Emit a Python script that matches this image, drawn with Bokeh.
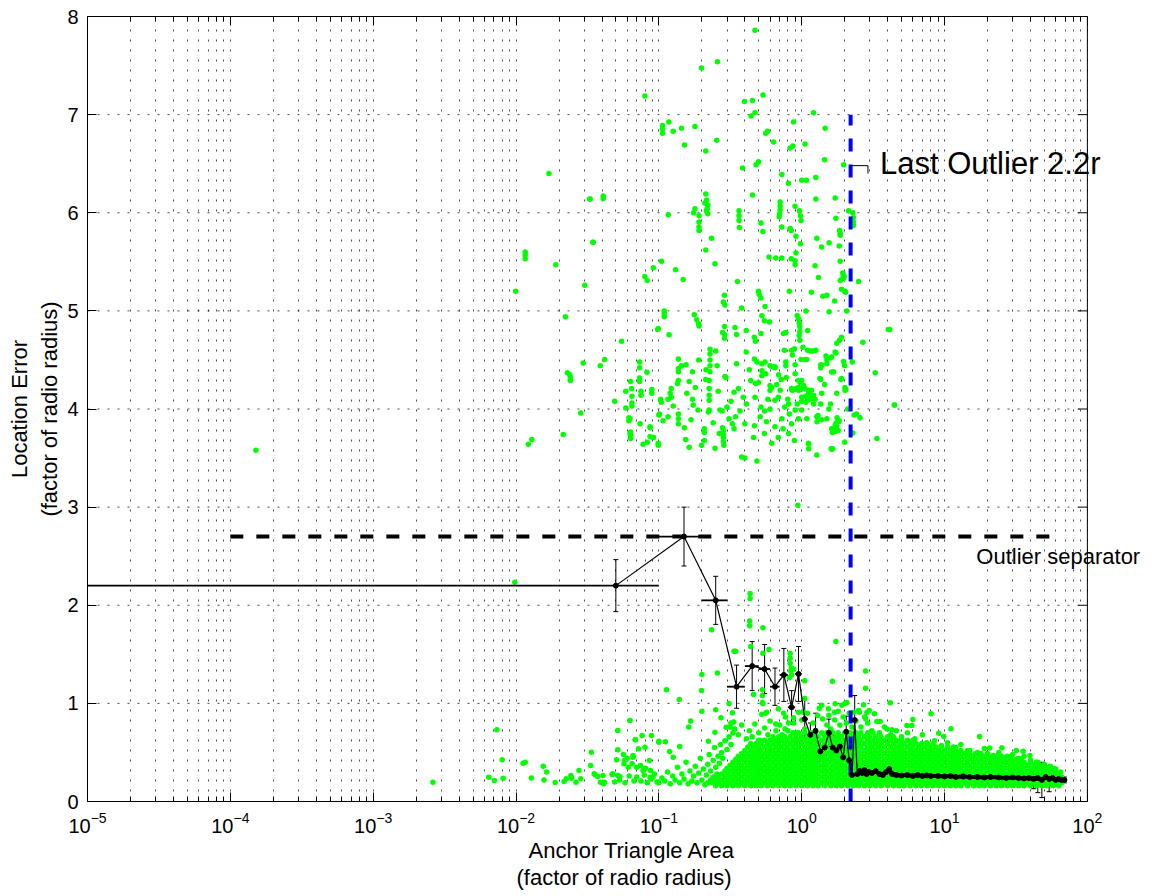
from bokeh.plotting import figure
from bokeh.models import (ColumnDataSource, LogAxis, FixedTicker,
                          Whisker, TeeHead, Label, Title)
from bokeh.embed import file_html
from bokeh.resources import INLINE

FONT = "Liberation Sans"

# ---------------- data ----------------
x_decades = [1e-5, 1e-4, 1e-3, 1e-2, 1e-1, 1e0, 1e1, 1e2]
x_axis_min, x_axis_max = 1e-5, 1e2
y_ticks = [0, 1, 2, 3, 4, 5, 6, 7, 8]

# outliers: scattered points with large error
high_outliers = [
(0.471,7.86),(0.199,7.475),(0.257,7.54),(0.0798,7.19),(0.398,7.135),(0.452,7.145),(0.536,7.2),(0.442,6.985),(0.471,7.02),(1.21,7.02),
(0.106,6.89),(0.106,6.85),(0.106,6.81),(0.1175,6.925),(0.126,6.83),(0.144,6.86),(0.179,6.88),(0.151,6.69),(0.213,6.63),(0.254,6.74),
(0.56,6.81),(0.577,6.83),(0.635,6.72),(0.877,6.925),(1.46,6.86),(1.056,6.7),(0.83,6.66),(0.867,6.68),(1.445,6.54),(1.965,6.49),
(0.479,6.49),(0.498,6.52),(0.386,6.455),(0.726,6.39),(0.808,6.3),(1.0,6.33),(1.08,6.33),(1.256,6.36),(1.256,6.14),(1.716,6.15),
(0.452,6.18),(0.0328,6.14),(0.0408,6.17),(0.0408,6.145),(0.017,6.4),
(0.213,6.19),(0.216,6.13),(0.22,6.08),(0.21,6.1),(0.218,6.04),(0.22,5.99),(0.215,6.02),
(0.179,6.04),(0.175,6.0),(0.191,5.97),(0.191,5.905),(0.191,5.855),(0.191,5.82),(0.1164,5.98),
(0.234,5.74),(0.213,5.62),(0.247,5.48),(0.364,6.02),(0.364,5.97),(0.364,5.92),(0.366,5.85),(0.519,5.895),(0.535,5.81),
(0.706,6.11),(0.706,6.07),(0.706,6.03),(0.7,5.99),(0.695,5.96),(0.899,6.065),(0.965,6.02),(0.98,5.97),(0.99,5.92),
(0.725,5.855),(0.83,5.84),(0.845,5.82),(0.912,5.76),(0.98,5.685),(1.735,5.945),(1.84,5.82),(1.86,5.79),(1.86,5.77),
(1.276,5.74),(1.377,5.65),(1.556,5.695),(1.83,5.66),(2.28,6.0),(2.3,5.95),(2.3,5.905),(2.3,5.87),(2.13,6.02),
(0.591,5.55),(0.659,5.54),(0.725,5.54),(0.845,5.53),(0.899,5.51),(0.899,5.47),(0.912,5.59),(1.24,5.46),
(1.94,5.385),(1.95,5.35),(1.86,5.31),(1.9,5.22),(2.0,5.2),(2.03,5.19),(2.5,5.3),(1.31,5.34),(1.86,5.505),
(0.0303,5.26),(0.0222,4.94),(0.0347,5.7),(0.0798,5.35),(0.0829,5.31),(0.0914,5.44),(0.1044,5.505),(0.131,5.42),(0.148,5.32),
(0.355,5.3),(0.498,5.2),(0.503,5.17),(0.519,5.13),(0.288,5.16),(0.283,5.09),(0.29,5.06),(0.38,5.03),(0.554,5.045),
(0.82,5.2),(1.17,5.19),(1.406,5.15),(1.5,5.16),(1.7,5.1),(1.556,4.99),(2.07,5.0),
(0.93,4.954),(0.95,4.92),(0.96,4.88),(0.97,4.84),(0.97,4.79),(0.96,4.75),(0.97,4.7),
(1.07,5.0),(1.1,4.8),(0.526,4.95),(0.548,4.9),(0.594,4.886),(0.466,4.73),(0.475,4.69),(0.519,4.77),(0.409,4.8),(0.341,4.83),
(0.288,4.84),(0.279,4.78),(0.288,4.76),(0.288,4.72),(0.35,4.76),(0.177,4.96),(0.184,4.91),(0.19,4.87),(0.191,4.845),
(0.118,4.757),(0.109,5.0),(0.109,4.97),(0.109,4.94),(0.099,4.82),(0.0548,4.69),(0.745,4.77),(0.774,4.78),
(4.13,4.81),(2.68,4.68),(1.965,4.485),(1.716,4.58),(1.59,4.52),(1.5,4.5),(1.5,4.46),(1.38,4.445),(1.36,4.42),
(2.0,4.44),(1.62,4.376),(1.36,4.3),(1.9,4.31),(2.01,4.22),(2.01,4.19),(1.76,4.16),(3.27,4.37),(4.45,4.04),
(2.33,3.94),(2.42,3.95),(2.56,3.91),(2.28,3.755),(2.0,3.66),(3.36,3.7),(1.62,3.59),
(1.7,3.81),(1.75,3.8),(1.8,3.78),(1.72,3.77),(1.59,4.05),(1.36,4.05),(1.28,3.87),(1.3,3.935),(1.118,3.64),(1.276,3.53),
(1.11,4.19),(1.13,4.16),(1.15,4.12),(1.18,4.11),(1.21,4.14),(1.1,4.6),(1.15,4.59),(1.2,4.59),(1.256,4.6),
(1.056,4.505),(1.085,4.505),(0.99,4.505),(1.02,4.63),(0.89,4.615),(0.9,4.36),(0.95,4.29),
(0.85,4.2),(0.88,4.2),(0.92,4.21),(0.95,4.19),(0.98,4.2),(1.0,4.12),(1.06,4.13),(1.1,4.09),(1.0,4.08),(1.07,4.07),
(0.000151,3.58),(0.00995,5.2),(0.0116,5.6),(0.0116,5.57),(0.0116,5.53),(0.019,5.47),(0.033,6.14),(0.0345,5.7),
(0.098,4.81),(0.0295,4.47),(0.0418,4.505),(0.0389,4.44),(0.0229,4.37),(0.0238,4.35),(0.024,4.32),(0.024,4.29),
(0.0733,4.48),(0.0733,4.42),(0.0825,4.375),(0.0733,4.315),(0.0733,4.28),(0.0634,4.28),(0.075,4.18),(0.075,4.14),(0.0586,4.18),
(0.0648,4.13),(0.0648,4.06),(0.0648,4.03),(0.0893,4.2),(0.0893,4.16),(0.049,4.08),(0.0587,4.01),(0.0284,3.96),(0.0617,3.91),(0.0617,3.88),
(0.0738,3.85),(0.0869,3.82),(0.0634,3.765),(0.0634,3.73),(0.0634,3.7),(0.0917,3.71),(0.083,3.66),(0.0775,3.64),(0.099,3.65),
(0.0214,3.74),(0.0129,3.69),(0.0122,3.64),(0.103,4.1),(0.101,3.95),
(0.228,4.61),(0.228,4.56),(0.228,4.5),(0.228,4.44),(0.228,4.38),(0.25,4.59),(0.225,4.29),(0.225,4.21),(0.225,4.14),(0.225,4.09),(0.225,3.99),(0.222,3.97),
(0.279,3.81),(0.283,3.78),(0.283,3.74),(0.283,3.71),(0.283,3.67),(0.285,3.63),(0.277,3.98),(0.268,3.99),(0.3,4.02),(0.29,4.33),(0.256,4.44),(0.214,4.4),(0.213,4.3),
(0.137,4.51),(0.144,4.44),(0.137,4.41),(0.137,4.38),(0.137,4.29),(0.135,4.26),(0.122,4.21),(0.122,4.12),(0.12,4.16),(0.116,4.1),(0.137,3.95),(0.137,3.9),(0.137,3.85),
(0.163,4.28),(0.172,4.38),(0.157,4.16),(0.172,4.1),(0.174,4.04),(0.188,3.99),(0.168,3.89),(0.151,3.81),(0.154,3.69),(0.163,3.61),(0.199,3.63),(0.208,3.8),(0.208,3.76),(0.208,3.68),(0.247,3.6),
(0.099,3.63),(0.1,3.94),(0.107,3.88),(0.116,3.92),(0.126,4.03),(0.104,4.07),(0.0868,3.81),(0.0868,3.72),(0.0914,3.71),
(0.0645,4.21),(0.0628,3.9),(0.0628,3.75),
(0.38,3.51),(0.4,3.5),(0.486,3.47),(0.46,3.71),(0.467,3.83),(0.4,3.85),(0.344,3.92),(0.327,3.85),(0.336,3.8),(0.31,3.9),(0.36,4.21),(0.336,4.17),(0.295,4.32),
(0.44,4.29),(0.471,4.12),(0.498,4.27),(0.526,4.39),(0.526,4.34),(0.56,4.36),(0.6,4.24),(0.6,4.19),(0.617,4.22),(0.65,4.43),(0.668,4.25),(0.686,4.12),(0.706,4.19),(0.65,4.09),
(0.774,4.48),(0.774,4.44),(0.85,4.21),(0.86,4.19),(0.925,4.21),(0.95,4.22),(0.975,4.27),(1.0,4.29),(1.03,4.24),(1.056,4.21),(1.115,4.15),(1.17,4.19),(1.14,4.1),(1.21,4.05),(1.24,4.1),
(1.276,3.92),(1.38,3.89),(1.5,3.9),(1.62,3.8),(1.64,3.76),(1.76,3.83),(1.81,3.87),(1.61,3.595),(1.115,3.65),(1.12,3.595),
(0.486,4.48),(0.526,4.46),(0.554,4.48),(0.6,4.44),(0.624,4.43),(0.65,4.42),(0.85,4.6),(0.86,4.55),(1.48,4.54),(1.84,4.7),(1.76,4.67),(1.9,4.73),
(1.98,5.35),(1.965,5.33),(2.01,5.2),(4.04,4.81),(1.735,4.57),(1.62,4.53),(2.26,4.48),(1.67,4.38),(1.88,4.3),(2.04,4.2),(4.47,4.04),(2.1,4.0),
(1.77,3.91),(1.83,3.88),(1.75,3.86),(1.72,3.84),(1.65,3.78),(1.65,3.595),
(0.409,4.58),(0.757,4.6),(0.467,4.51),(1.36,4.45),(1.34,4.31),(0.475,4.26),(1.38,4.16),(0.41,4.05),(0.519,4.02),(0.6,4.0),(0.81,4.05),(0.9,3.99),(1.0,3.99),
(0.512,3.92),(0.567,3.87),(0.65,3.82),(0.726,3.9),(0.85,3.85),(0.95,3.9),(1.085,3.9),(0.548,3.75),(0.617,3.65),(0.686,3.71),(0.81,3.75),(0.89,3.68),
(0.94,3.02),
(0.78,4.32),(0.8,4.1),(0.82,3.95),(0.76,4.02),(0.74,3.8),(0.9,4.45),(0.93,4.05),(0.69,4.35),(0.72,4.3),(0.58,4.1),(0.55,3.98),(0.43,4.4),
(0.39,4.12),(0.37,3.98),(0.35,4.46),(0.32,4.08),(0.26,4.18),(0.24,3.86),(0.265,3.75),(0.18,4.22),(0.19,4.5),(0.155,4.45),(1.45,4.25),(1.55,4.0),
]

# sparse points between the band and the outliers
mid_scatter = [
(0.0098,2.235),(0.435,2.12),(0.435,2.07),(0.432,1.84),(0.432,1.79),(0.535,1.77),(0.234,1.75),(1.735,1.63),(0.336,1.53),(0.345,1.53),(0.535,1.51),
(0.83,1.51),(0.83,1.46),(0.83,1.41),(0.845,1.36),(0.84,1.33),(0.85,1.29),(0.82,1.26),(0.2,1.295),(0.257,1.31),(1.64,1.226),(2.8,1.33),(2.8,1.155),
(0.113,1.14),(0.199,1.13),(0.139,1.04),(0.31,1.0),(0.46,1.09),(0.53,1.14),(0.53,1.08),(0.53,1.01),(0.525,0.89),(0.567,0.91),(0.25,0.935),(0.2,0.92),
(0.0628,0.826),(0.0516,0.724),(0.0683,0.632),(0.0887,0.673),(0.1,0.615),(0.111,0.61),(0.14,0.56),(0.167,0.82),(0.162,0.76),(0.247,0.706),(0.296,0.757),(0.319,0.8),(0.222,0.615),
(0.764,0.74),(0.659,0.79),(1.38,0.98),(1.716,0.996),(2.01,1.0),(2.86,0.907),(2.8,0.843),
(0.44,1.58),(0.59,1.55),(1.05,1.23),(0.877,1.35),(0.535,1.0),(0.56,0.9),(0.272,0.853),(0.328,0.904),(0.334,0.81),(0.316,0.757),
(0.686,0.945),(0.748,0.9),(0.808,0.8),(0.877,0.853),(0.95,0.91),(1.05,1.05),(1.03,0.91),(1.29,0.877),(1.54,0.945),(1.7,0.91),(1.91,0.98),(2.07,1.01),(2.31,0.91),(2.5,0.928),
(2.71,0.986),(2.53,0.91),(2.97,0.928),(2.76,0.86),(3.23,0.894),(3.36,0.815),(3.54,0.815),(4.17,1.006),(3.95,0.74),(4.28,0.73),(5.45,0.775),(5.9,0.775),(6.0,0.836),
(8.04,0.894),(9.1,0.696),(9.87,0.663),(11.1,0.741),(17.6,0.663),(20.7,0.544),(25.2,0.547),(31.8,0.52),(35.5,0.513),(28.9,0.459),(39.6,0.469),
]

# low-error points at small triangle areas
low_scatter = [
(0.00262,0.197),(0.00734,0.73),(0.008,0.425),(0.00645,0.248),(0.00707,0.214),(0.00812,0.238),(0.0112,0.39),(0.0116,0.4),(0.0128,0.24),(0.0155,0.36),(0.0164,0.3),
(0.0157,0.22),(0.0188,0.194),(0.0217,0.204),(0.0225,0.231),(0.0242,0.265),(0.0245,0.238),(0.0263,0.197),(0.0284,0.231),(0.0276,0.316),(0.0337,0.503),(0.0333,0.367),
(0.0358,0.275),(0.0374,0.255),(0.039,0.197),(0.0407,0.265),(0.0416,0.197),(0.0476,0.282),(0.0516,0.265),(0.0533,0.255),(0.0516,0.527),(0.0565,0.479),(0.0574,0.418),
(0.0686,0.629),(0.066,0.469),(0.065,0.384),(0.061,0.35),(0.0763,0.673),(0.08,0.553),(0.0857,0.418),(0.1,0.605),
(0.0353,0.282),(0.041,0.18),(0.0506,0.425),(0.06,0.44),(0.057,0.384),(0.047,0.275),(0.072,0.537),(0.066,0.45),(0.07,0.35),(0.0745,0.367),(0.0775,0.316),
(0.0806,0.34),(0.0874,0.316),(0.0908,0.248),(0.0868,0.248),(0.119,0.51),(0.126,0.45),
(0.07,0.25),(0.075,0.21),(0.079,0.27),(0.083,0.19),(0.088,0.23),(0.093,0.28),(0.097,0.2),(0.049,0.2),(0.053,0.22),(0.058,0.19),(0.062,0.26),(0.067,0.21),
(0.1,0.19),(0.105,0.24),(0.11,0.21),(0.115,0.3),(0.12,0.18),(0.125,0.26),(0.13,0.22),(0.135,0.35),(0.14,0.19),(0.145,0.28),(0.15,0.23),(0.155,0.4),
(0.16,0.18),(0.165,0.31),(0.17,0.21),(0.175,0.26),(0.18,0.36),(0.185,0.19),(0.19,0.29),(0.195,0.44),(0.2,0.22),(0.205,0.33),(0.21,0.17),(0.215,0.27),
(0.22,0.38),(0.225,0.48),(0.23,0.31),(0.235,0.2),(0.24,0.42),(0.245,0.55),(0.25,0.35),(0.255,0.28),(0.26,0.46),(0.265,0.39),(0.27,0.58),(0.275,0.5),
(0.28,0.44),(0.29,0.62),(0.3,0.53),(0.31,0.66),(0.32,0.58),(0.33,0.7),
]

# ragged upper edge of the dense band
fringe_top = [
(0.34,0.74),(0.36,0.68),(0.38,0.78),(0.41,0.64),(0.43,0.72),(0.45,0.66),(0.47,0.79),(0.5,0.7),(0.52,0.62),(0.55,0.75),(0.58,0.68),(0.6,0.82),
(0.63,0.64),(0.66,0.72),(0.7,0.78),(0.73,0.68),(0.77,0.86),(0.8,0.72),(0.88,0.8),(0.92,0.7),(1.0,0.83),(1.05,0.74),(1.1,0.9),(1.2,0.8),(1.25,0.72),
(1.33,0.95),(1.4,0.84),(1.5,0.78),(1.55,0.88),(1.6,0.74),(1.7,0.83),(1.8,0.92),(1.85,0.78),(1.95,0.86),(2.05,0.8),(2.15,0.9),(2.25,0.76),(2.4,0.82),
(2.6,0.76),(2.9,0.8),(3.1,0.72),(3.5,0.7),(3.8,0.76),(4.2,0.68),(4.6,0.72),(5.0,0.66),(5.5,0.7),(6.2,0.64),(7.0,0.68),(7.5,0.6),(8.5,0.62),(9.5,0.57),
(10.5,0.6),(12,0.55),(13,0.58),(15,0.52),(17,0.5),(19,0.54),(22,0.47),(24,0.5),(27,0.45),(30,0.48),(33,0.44),(36,0.46),(40,0.42),(45,0.4),(50,0.38),
(55,0.36),(60,0.33),(65,0.3),
]

# dense band of well-localised points: rows of x positions
band_x_a = [0.1,0.11,0.12,0.13,0.145,0.16,0.175,0.19,0.21,0.23,0.25,0.275,0.3,0.33,0.36,0.4,0.44,0.48,0.52,0.575,0.63,0.69,0.76,0.83,0.91,
            1.0,1.1,1.2,1.3,1.45,1.6,1.75,1.9,2.1,2.3,2.5,2.75,3.0,3.3,3.6,4.0,4.4,4.8,5.2,5.75,6.3,6.9,7.6,8.3,9.1,
            10,11,12,13,14.5,16,17.5,19,21,23,25,27.5,30,33,36,40,44,48,52,57.5,63,69]
band_x_b = [0.105,0.115,0.125,0.138,0.15,0.165,0.18,0.2,0.22,0.24,0.26,0.29,0.315,0.345,0.38,0.42,0.46,0.5,0.55,0.6,0.66,0.72,0.79,0.87,0.95,
            1.05,1.15,1.25,1.38,1.5,1.65,1.8,2.0,2.2,2.4,2.6,2.9,3.15,3.45,3.8,4.2,4.6,5.0,5.5,6.0,6.6,7.2,7.9,8.7,9.5,
            10.5,11.5,12.5,13.8,15,16.5,18,20,22,24,26,29,31.5,34.5,38,42,46,50,55,60,66]
band_rows_y   = [0.16, 0.19, 0.22, 0.25, 0.28, 0.31, 0.34, 0.37, 0.40, 0.43, 0.46, 0.49, 0.52, 0.555, 0.59, 0.625, 0.66, 0.70]
band_rows_set = ["a",  "b",  "a",  "b",  "a",  "b",  "a",  "b",  "a",  "b",  "a",  "b",  "a",  "b",   "a",  "b",   "a",  "b"]
band_rows_lo  = [0.25, 0.22, 0.23, 0.24, 0.27, 0.29, 0.3,  0.31, 0.33, 0.34, 0.36, 0.38, 0.4,  0.42,  0.44, 0.5,   0.63, 0.87]
band_rows_hi  = [63,   66,   69,   66,   66,   60,   57.5, 50,   44,   34.5, 27.5, 20,   14.5, 11.5,  8.3,  6.0,   4.4,  3.15]

# binned mean location error (bins of width 0.1) with error bars
bin_half_width = 0.05
mean_x = [0.05,0.15,0.25,0.35,0.45,0.55,0.65,0.75,0.85,0.95,1.05,1.15,1.25,1.35,1.45,1.55,1.65,1.75,1.85,1.95,
          2.05,2.15,2.25,2.35,2.45,2.55,2.65,2.75,2.85,2.95,3.1,3.3,3.5,3.7,3.9,4.1,4.3,4.6,
          5.0,5.5,6,6.5,7,7.5,8,9,10,11,12,13.5,15,17,19,21,24,27,30,33,36,39,42,45,48,51,54,57,60,63,66,69]
mean_y = [2.2,2.7,2.05,1.17,1.38,1.35,1.17,1.29,0.96,1.30,0.84,0.68,0.72,0.51,0.55,0.70,0.55,0.52,0.56,0.45,
          0.71,0.42,0.27,0.83,0.28,0.31,0.29,0.32,0.28,0.30,0.29,0.31,0.28,0.27,0.30,0.33,0.28,0.27,
          0.265,0.27,0.26,0.27,0.26,0.265,0.26,0.26,0.255,0.26,0.25,0.255,0.25,0.25,0.245,0.25,0.245,0.24,0.245,0.24,
          0.235,0.24,0.23,0.24,0.22,0.25,0.23,0.24,0.22,0.23,0.22,0.22]
mean_err = [0.265,0.30,0.245,0.22,0.25,0.25,0.19,0.27,0.17,0.28,0.20,0.12,0.18,0.10,0.12,0.14,0.12,0.10,0.12,0.10,
            0.16,0.10,0.05,0.25,0.05,0.06,0.05,0.06,0.05,0.05,0.05,0.05,0.04,0.04,0.05,0.10,0.04,0.04,
            0.03,0.04,0.03,0.03,0.03,0.03,0.03,0.03,0.03,0.03,0.03,0.03,0.03,0.03,0.03,0.03,0.04,0.04,0.04,0.05,
            0.05,0.06,0.10,0.15,0.18,0.10,0.13,0.08,0.06,0.05,0.04,0.03]
dense_bins_from = 2.4   # beyond this the many narrow bins merge into a thick black trace

separator_y = 2.7
separator_x = [1e-4, 55]
last_outlier_x = 2.2
last_outlier_top = 7.0
label_last = "Last Outlier 2.2r"
label_last_pos = (3.53, 6.50)
bracket_x = [2.2, 2.91, 2.91]
bracket_y = [6.48, 6.48, 6.40]
label_sep = "Outlier separator"
label_sep_pos = (16.7, 2.50)
x_title = ["Anchor Triangle Area", "(factor of radio radius)"]
y_title = ["Location Error", "(factor of radio radius)"]

# ---------------- build sources ----------------
gx, gy = [], []
for pts in (high_outliers, mid_scatter, low_scatter, fringe_top):
    for a, b in pts:
        gx.append(a)
        gy.append(b)
for yv, s, lo, hi in zip(band_rows_y, band_rows_set, band_rows_lo, band_rows_hi):
    xs = band_x_a if s == "a" else band_x_b
    for xv in xs:
        if lo <= xv <= hi:
            gx.append(xv)
            gy.append(yv)
green_src = ColumnDataSource(dict(x=gx, y=gy))

mean_src = ColumnDataSource(dict(
    x=mean_x, y=mean_y,
    lower=[m - e for m, e in zip(mean_y, mean_err)],
    upper=[m + e for m, e in zip(mean_y, mean_err)],
    x0=[max(m - bin_half_width, 1e-6) for m in mean_x],
    x1=[m + bin_half_width for m in mean_x],
))
tail = [i for i, v in enumerate(mean_x) if v >= dense_bins_from]
tail_x = [mean_x[i] for i in tail]
tail_y = [mean_y[i] for i in tail]

# ---------------- figure ----------------
# The frame is widened past 1e2 so that the two annotations can run beyond the
# right border of the axes box (as in the original); the box is closed below.
DEC_PX = 998 / 7.0                        # pixels per decade of the axes box
X_END = x_axis_max * 10 ** (66 / DEC_PX)  # range end at the canvas edge
p = figure(frame_width=1066, frame_height=785, x_axis_type="log",
           x_range=(x_axis_min, X_END), y_range=(0, 8),
           output_backend="svg", toolbar_location=None,
           min_border_left=87, min_border_right=0, min_border_top=16, min_border_bottom=95,
           background_fill_color="white", border_fill_color="white")
p.outline_line_color = None

minor = [k * d for d in x_decades[:-1] for k in range(2, 10)]
xticker = FixedTicker(ticks=x_decades, minor_ticks=minor)
yticker = FixedTicker(ticks=y_ticks)

xa = p.xaxis[0]
ya = p.yaxis[0]
xa.ticker = xticker
xa.bounds = (x_axis_min, x_axis_max)
ya.ticker = yticker
for ax in (xa, ya):
    ax.axis_line_color = "black"
    ax.major_tick_line_color = "black"
    ax.minor_tick_line_color = "black"
    ax.major_tick_in = 9
    ax.major_tick_out = 0
    ax.minor_tick_in = 5
    ax.minor_tick_out = 0
    ax.major_label_text_font = FONT
    ax.major_label_text_font_size = "20px"
    ax.major_label_text_color = "black"
xa.major_label_standoff = 10
ya.major_label_standoff = 9

top = LogAxis(ticker=xticker, bounds=(x_axis_min, x_axis_max),
              major_label_text_font_size="1px", major_label_text_color=None,
              major_tick_in=9, major_tick_out=0, minor_tick_in=5, minor_tick_out=0,
              axis_line_color="black", major_label_standoff=0)
p.add_layout(top, "above")

# axis titles
for txt, off in ((x_title[0], 441), (x_title[1], 429)):
    p.add_layout(Title(text=txt, align="left", offset=off, text_font=FONT,
                       text_font_size="22px", text_font_style="normal",
                       text_color="black", standoff=0), "below")
for txt, so in ((y_title[1], 6), (y_title[0], 0)):
    p.add_layout(Title(text=txt, align="center", text_font=FONT,
                       text_font_size="22px", text_font_style="normal",
                       text_color="black", standoff=so), "left")

# grids (x from the axis ticker; y drawn only across the axes box)
p.xgrid.grid_line_color = "black"
p.xgrid.grid_line_alpha = 0.7
p.xgrid.grid_line_dash = "2 8"
p.xgrid.minor_grid_line_color = "black"
p.xgrid.minor_grid_line_alpha = 0.7
p.xgrid.minor_grid_line_dash = "2 8"
p.ygrid.visible = False
inner_y = y_ticks[1:-1]
p.segment(x0=[x_axis_min] * len(inner_y), y0=inner_y, x1=[x_axis_max] * len(inner_y), y1=inner_y,
          line_color="black", line_alpha=0.7, line_width=1, line_dash="2 8")

# right border of the axes box with inward ticks
tick_in = x_axis_max / 10 ** (9 / DEC_PX)
p.line([x_axis_max, x_axis_max], [y_ticks[0], y_ticks[-1]], line_color="black", line_width=1)
p.segment(x0=[tick_in] * len(y_ticks), y0=y_ticks, x1=[x_axis_max] * len(y_ticks), y1=y_ticks,
          line_color="black", line_width=1)

# green scatter
p.scatter("x", "y", source=green_src, size=5.5, fill_color="#00ff00", line_color=None)

# last outlier vertical line and separator
p.line([last_outlier_x, last_outlier_x], [0, last_outlier_top], line_color="#0000ff",
       line_width=4, line_dash="13 13")
p.line(separator_x, [separator_y, separator_y], line_color="black", line_width=4, line_dash="13 13")

# mean curve with bars
p.segment("x0", "y", "x1", "y", source=mean_src, line_color="black", line_width=1.8)
wh = Whisker(source=mean_src, base="x", upper="upper", lower="lower", dimension="height",
             line_color="black", line_width=1,
             upper_head=TeeHead(size=5, line_color="black", line_width=1),
             lower_head=TeeHead(size=5, line_color="black", line_width=1))
p.add_layout(wh)
p.line("x", "y", source=mean_src, line_color="black", line_width=1.2)
p.line(tail_x, tail_y, line_color="black", line_width=4)
p.scatter("x", "y", source=mean_src, size=5, fill_color="black", line_color="black")

# annotations
p.line(bracket_x, bracket_y, line_color="black", line_width=1)
p.add_layout(Label(x=label_last_pos[0], y=label_last_pos[1], text=label_last,
                   text_font=FONT, text_font_size="31px", text_baseline="middle",
                   text_color="black"))
p.add_layout(Label(x=label_sep_pos[0], y=label_sep_pos[1], text=label_sep,
                   text_font=FONT, text_font_size="22px", text_baseline="middle",
                   text_color="black"))

open("out.html", "w").write(file_html(p, INLINE))
